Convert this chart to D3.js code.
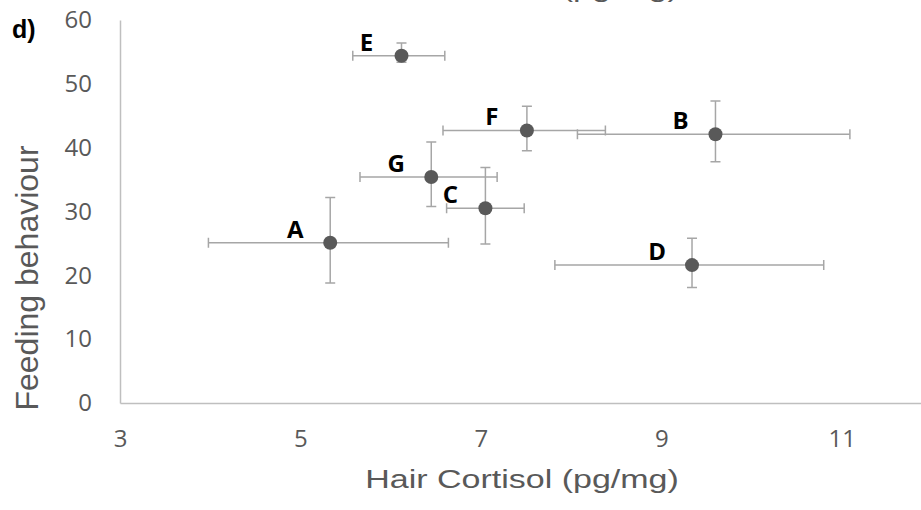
<!DOCTYPE html>
<html>
<head>
<meta charset="utf-8">
<script src="https://cdnjs.cloudflare.com/ajax/libs/d3/7.8.5/d3.min.js"></script>
<style>
  body { margin: 0; background: #fff; }
  svg { display: block; }
</style>
</head>
<body>
<div id="chart"></div>
<script>
(function () {
    'use strict';

    // group labels and means
    var groups = ['A', 'B', 'C', 'D', 'E', 'F', 'G'];
    var cortisol = [5.33, 9.60, 7.05, 9.34, 6.12, 7.51, 6.45];
    var feeding = [25.1, 42.1, 30.5, 21.6, 54.4, 42.7, 35.4];
    // error bar ends
    var cortisolLo = [3.98, 8.07, 6.62, 7.82, 5.58, 6.58, 5.66];
    var cortisolHi = [6.64, 11.09, 7.48, 10.80, 6.60, 8.38, 7.18];
    var feedingLo = [18.8, 37.8, 24.9, 18.1, 53.4, 39.5, 30.8];
    var feedingHi = [32.2, 47.3, 36.9, 25.8, 56.4, 46.5, 40.9];

    var xTicks = [3, 5, 7, 9, 11];
    var yTicks = [0, 10, 20, 30, 40, 50, 60];

    var width = 921, height = 510;

    var svg = d3.select('#chart').append('svg')
        .attr('width', width)
        .attr('height', height);

    var x = d3.scaleLinear().domain([3, 12]).range([120, 932]);
    var y = d3.scaleLinear().domain([0, 60]).range([403, 20]);

    var axisColor = '#bfbfbf',
        textColor = '#595959',
        barColor = '#a6a6a6';

    var xAxis = svg.append('g')
        .attr('transform', 'translate(0,' + y(0) + ')')
        .call(d3.axisBottom(x).tickValues(xTicks).tickSize(0).tickPadding(27));

    var yAxis = svg.append('g')
        .attr('transform', 'translate(' + x(3) + ',0)')
        .call(d3.axisLeft(y).tickValues(yTicks).tickSize(0).tickPadding(28));

    [xAxis, yAxis].forEach(function (a) {
        a.select('.domain').attr('stroke', axisColor).attr('stroke-width', 1.5);
        a.selectAll('text')
            .attr('fill', textColor)
            .style('font-family', '"Open Sans", sans-serif')
            .style('font-size', '24px');
    });

    var data = groups.map(function (g, i) {
        return { g: g, x: cortisol[i], y: feeding[i],
                 x0: cortisolLo[i], x1: cortisolHi[i],
                 y0: feedingLo[i], y1: feedingHi[i] };
    });

    var cap = 5;
    var bars = svg.append('g')
        .attr('stroke', barColor)
        .attr('stroke-width', 1.5)
        .attr('fill', 'none');

    var pts = bars.selectAll('g').data(data).enter().append('g');

    // horizontal bars
    pts.append('line')
        .attr('x1', function (d) { return x(d.x0); })
        .attr('x2', function (d) { return x(d.x1); })
        .attr('y1', function (d) { return y(d.y); })
        .attr('y2', function (d) { return y(d.y); });
    pts.append('path')
        .attr('d', function (d) {
            var yy = y(d.y);
            return 'M' + x(d.x0) + ',' + (yy - cap) + 'V' + (yy + cap) +
                   'M' + x(d.x1) + ',' + (yy - cap) + 'V' + (yy + cap);
        });

    // vertical bars
    pts.append('line')
        .attr('x1', function (d) { return x(d.x); })
        .attr('x2', function (d) { return x(d.x); })
        .attr('y1', function (d) { return y(d.y0); })
        .attr('y2', function (d) { return y(d.y1); });
    pts.append('path')
        .attr('d', function (d) {
            var xx = x(d.x);
            return 'M' + (xx - cap) + ',' + y(d.y0) + 'H' + (xx + cap) +
                   'M' + (xx - cap) + ',' + y(d.y1) + 'H' + (xx + cap);
        });

    svg.append('g').selectAll('circle')
        .data(data).enter().append('circle')
        .attr('cx', function (d) { return x(d.x); })
        .attr('cy', function (d) { return y(d.y); })
        .attr('r', 7)
        .attr('fill', '#595959');

    svg.append('g').selectAll('text')
        .data(data).enter().append('text')
        .attr('x', function (d) { return x(d.x) - 35; })
        .attr('y', function (d) { return y(d.y) - 5; })
        .attr('text-anchor', 'middle')
        .style('font-family', '"Open Sans", sans-serif')
        .style('font-weight', 'bold')
        .style('font-size', '24px')
        .attr('fill', '#000')
        .text(function (d) { return d.g; });

    // axis titles
    svg.append('text')
        .attr('transform', 'translate(522,488) scale(1.36,1)')
        .attr('text-anchor', 'middle')
        .style('font-family', '"Liberation Sans", Arial, sans-serif')
        .style('font-size', '25px')
        .attr('fill', textColor)
        .text('Hair Cortisol (pg/mg)');

    // bottom edge of the panel above, cut off by the crop
    svg.append('text')
        .attr('transform', 'translate(522,-3) scale(1.36,1)')
        .attr('text-anchor', 'middle')
        .style('font-family', '"Liberation Sans", Arial, sans-serif')
        .style('font-size', '25px')
        .attr('fill', textColor)
        .text('Hair Cortisol (pg/mg)');

    svg.append('text')
        .attr('transform', 'translate(38,278) rotate(-90)')
        .attr('text-anchor', 'middle')
        .style('font-family', '"Liberation Sans", Arial, sans-serif')
        .style('font-size', '32px')
        .attr('fill', textColor)
        .text('Feeding behaviour');

    svg.append('text')
        .attr('x', 12)
        .attr('y', 38)
        .style('font-family', '"Liberation Sans Narrow", "Liberation Sans", sans-serif')
        .style('font-weight', 'bold')
        .style('font-size', '25px')
        .attr('fill', '#000')
        .text('d)');
}());
</script>
</body>
</html>
